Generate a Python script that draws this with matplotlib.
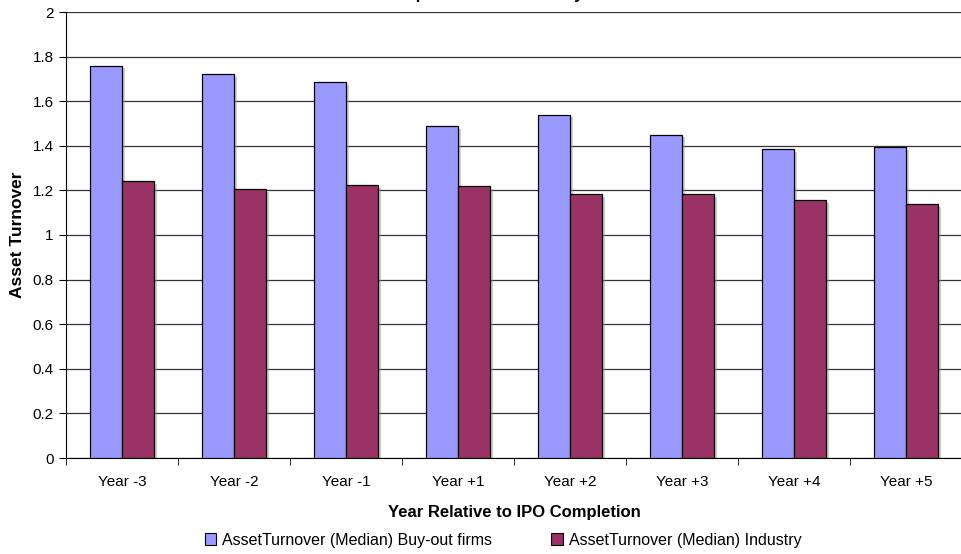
import numpy as np
import matplotlib.pyplot as plt
import matplotlib.patheffects as pe
from matplotlib.patches import Patch

plt.rcParams['font.family'] = ['Liberation Sans', 'DejaVu Sans']

# -----------------------------
# Data
# -----------------------------
years = ["Year -3", "Year -2", "Year -1", "Year +1", "Year +2", "Year +3", "Year +4", "Year +5"]
buyout = [1.76, 1.72, 1.685, 1.49, 1.54, 1.45, 1.385, 1.395]
industry = [1.24, 1.205, 1.222, 1.218, 1.184, 1.184, 1.156, 1.138]
ytick_labels = ["0", "0.2", "0.4", "0.6", "0.8", "1", "1.2", "1.4", "1.6", "1.8", "2"]

blue = "#9999FF"
plum = "#993366"

W, H = 962, 554
fig = plt.figure(figsize=(W / 100, H / 100), dpi=100)
ax = fig.add_axes([66 / W, (H - 458) / H, (W - 66) / W, (458 - 12) / H])

x = np.arange(len(years))
bw = 0.286
shadow = [pe.SimplePatchShadow(offset=(2, -2), shadow_rgbFace="#999999", alpha=0.5), pe.Normal()]

b1 = ax.bar(x - bw / 2, buyout, bw, color=blue, edgecolor="black", linewidth=0.9, zorder=3)
b2 = ax.bar(x + bw / 2, industry, bw, color=plum, edgecolor="black", linewidth=0.9, zorder=3)
for b in list(b1) + list(b2):
    b.set_path_effects(shadow)

ax.set_xlim(-0.5, len(years) - 0.5)
ax.set_ylim(0, 2)
ax.set_yticks(np.linspace(0, 2, len(ytick_labels)))
ax.set_yticklabels(ytick_labels, fontsize=11)
ax.yaxis.grid(True, color="#333333", linewidth=0.9, zorder=0)
ax.set_axisbelow(True)

# category labels centred, tick marks between categories
ax.set_xticks(x)
ax.set_xticklabels(years, fontsize=11)
ax.tick_params(axis="x", length=0, pad=12)
ax.set_xticks(np.arange(-0.5, len(years), 1), minor=True)
ax.tick_params(axis="x", which="minor", length=5, direction="out", color="black")
ax.tick_params(axis="y", length=5, direction="out", color="black", pad=4)

for s in ["top", "right"]:
    ax.spines[s].set_visible(False)
ax.spines["left"].set_color("black")
ax.spines["bottom"].set_color("black")

ax.set_ylabel("Asset Turnover", fontsize=12.5, fontweight="bold", labelpad=5)
ax.set_xlabel("Year Relative to IPO Completion", fontsize=12, fontweight="bold", labelpad=12)

# title sits above the canvas, only its descenders reach into view
fig.text(0.5, 1 + 0.5 / H, "Comparison with Industry", ha="center", va="baseline",
         fontsize=12, fontweight="bold")

handles = [Patch(facecolor=blue, edgecolor="black", linewidth=0.8,
                 label="AssetTurnover (Median) Buy-out firms"),
           Patch(facecolor=plum, edgecolor="black", linewidth=0.8,
                 label="AssetTurnover (Median) Industry")]
fig.legend(handles=handles, loc="center", bbox_to_anchor=(0.523, 14 / H), ncol=2,
           frameon=False, fontsize=11.5, handlelength=0.7, handleheight=0.7,
           handletextpad=0.4, columnspacing=3.7)

fig.savefig("out.png", dpi=100)
